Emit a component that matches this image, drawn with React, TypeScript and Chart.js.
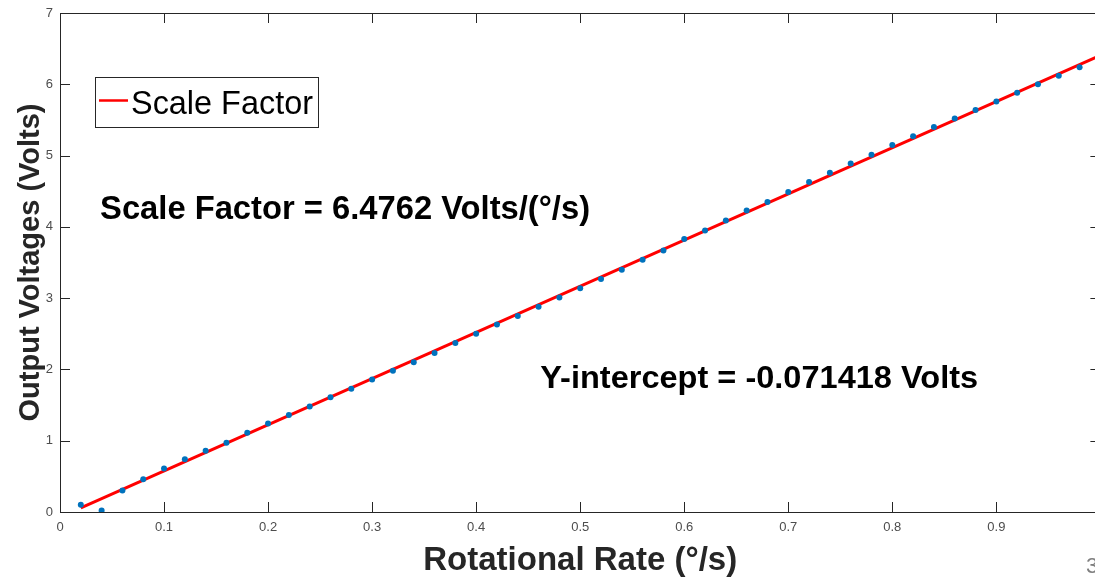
import React, { useEffect, useRef } from "react";
import { Chart, registerables } from "chart.js";

Chart.register(...registerables);

// ---- data ----
const rateX = [
  0.02, 0.04, 0.06, 0.08, 0.1, 0.12, 0.14, 0.16, 0.18, 0.2,
  0.22, 0.24, 0.26, 0.28, 0.3, 0.32, 0.34, 0.36, 0.38, 0.4,
  0.42, 0.44, 0.46, 0.48, 0.5, 0.52, 0.54, 0.56, 0.58, 0.6,
  0.62, 0.64, 0.66, 0.68, 0.7, 0.72, 0.74, 0.76, 0.78, 0.8,
  0.82, 0.84, 0.86, 0.88, 0.9, 0.92, 0.94, 0.96, 0.98,
];
const voltY = [
  0.1, 0.02, 0.3, 0.46, 0.61, 0.74, 0.86, 0.97, 1.11, 1.24,
  1.36, 1.48, 1.61, 1.73, 1.86, 1.98, 2.1, 2.23, 2.37, 2.5,
  2.63, 2.75, 2.88, 3.01, 3.14, 3.27, 3.4, 3.54, 3.67, 3.83,
  3.95, 4.09, 4.23, 4.35, 4.49, 4.63, 4.76, 4.89, 5.01, 5.15,
  5.27, 5.4, 5.52, 5.64, 5.76, 5.88, 6.0, 6.12, 6.24,
];
const fitX = [0.02, 1.0];
const fitY = [0.058, 6.405];

const xTickValues = [0, 0.1, 0.2, 0.3, 0.4, 0.5, 0.6, 0.7, 0.8, 0.9, 1];
const xTickLabels = ["0", "0.1", "0.2", "0.3", "0.4", "0.5", "0.6", "0.7", "0.8", "0.9", "1"];
const yTickValues = [0, 1, 2, 3, 4, 5, 6, 7];
const yTickLabels = ["0", "1", "2", "3", "4", "5", "6", "7"];

const legendLabel = "Scale Factor";
const xTitle = "Rotational Rate (°/s)";
const yTitle = "Output Voltages (Volts)";
const slopeText = "Scale Factor = 6.4762 Volts/(°/s)";
const interceptText = "Y-intercept = -0.071418 Volts";
const pageNumber = "3";

const FONT = '"Liberation Sans", Arial, Helvetica, sans-serif';
const AXIS_COLOR = "#262626";
const TICK_COLOR = "#4d4d4d";
const POINT_COLOR = "#0072BD";
const LINE_COLOR = "#ff0000";

function drawFitText(
  ctx: CanvasRenderingContext2D,
  text: string,
  font: string,
  x: number,
  yBase: number,
  width: number,
  color: string
) {
  ctx.save();
  ctx.font = font;
  const w = ctx.measureText(text).width;
  ctx.translate(x, yBase);
  ctx.scale(width / w, 1);
  ctx.textAlign = "left";
  ctx.textBaseline = "alphabetic";
  ctx.fillStyle = color;
  ctx.fillText(text, 0, 0);
  ctx.restore();
}

const decorPlugin = {
  id: "matlabDecor",
  afterDraw(chart: any) {
    const { ctx, chartArea } = chart;
    const { left, right, top, bottom } = chartArea;
    const xs = chart.scales.x;
    const ys = chart.scales.y;
    ctx.save();
    // axes box
    ctx.strokeStyle = AXIS_COLOR;
    ctx.lineWidth = 1;
    ctx.strokeRect(Math.round(left) + 0.5, Math.round(top) + 0.5, Math.round(right - left), Math.round(bottom - top));
    // inward ticks
    const tl = 10;
    ctx.beginPath();
    xTickValues.forEach((v) => {
      const px = Math.round(xs.getPixelForValue(v)) + 0.5;
      ctx.moveTo(px, bottom);
      ctx.lineTo(px, bottom - tl);
      ctx.moveTo(px, top);
      ctx.lineTo(px, top + tl);
    });
    yTickValues.forEach((v) => {
      const py = Math.round(ys.getPixelForValue(v)) + 0.5;
      ctx.moveTo(left, py);
      ctx.lineTo(left + tl, py);
      ctx.moveTo(right, py);
      ctx.lineTo(right - tl, py);
    });
    ctx.stroke();

    // legend box
    const lx = 95, ly = 77, lw = 223, lh = 50;
    ctx.fillStyle = "#ffffff";
    ctx.fillRect(lx, ly, lw, lh);
    ctx.strokeStyle = AXIS_COLOR;
    ctx.lineWidth = 1;
    ctx.strokeRect(lx + 0.5, ly + 0.5, lw, lh);
    ctx.strokeStyle = LINE_COLOR;
    ctx.lineWidth = 2.5;
    ctx.beginPath();
    ctx.moveTo(99, 100.5);
    ctx.lineTo(128, 100.5);
    ctx.stroke();
    drawFitText(ctx, legendLabel, `normal 33px ${FONT}`, 131, 114, 182, "#000000");

    // annotations anchored in data coordinates
    drawFitText(
      ctx,
      slopeText,
      `bold 34px ${FONT}`,
      xs.getPixelForValue(0.0385),
      ys.getPixelForValue(4.11),
      490,
      "#000000"
    );
    drawFitText(
      ctx,
      interceptText,
      `bold 32px ${FONT}`,
      xs.getPixelForValue(0.4615),
      ys.getPixelForValue(1.74),
      438,
      "#000000"
    );

    // slide page number
    ctx.fillStyle = "#7f7f7f";
    ctx.font = `normal 22px ${FONT}`;
    ctx.textAlign = "left";
    ctx.textBaseline = "alphabetic";
    ctx.fillText(pageNumber, 1086, 573);
    ctx.restore();
  },
};

export default function App() {
  const canvasRef = useRef<HTMLCanvasElement | null>(null);

  useEffect(() => {
    const canvas = canvasRef.current;
    if (!canvas) return;
    const scatterData = rateX.map((x, i) => ({ x, y: voltY[i] }));
    const fitData = fitX.map((x, i) => ({ x, y: fitY[i] }));

    const chart = new Chart(canvas, {
      type: "scatter",
      data: {
        datasets: [
          {
            label: "Data",
            data: scatterData,
            backgroundColor: POINT_COLOR,
            borderColor: POINT_COLOR,
            pointRadius: 3,
            pointBorderWidth: 0,
            showLine: false,
            order: 0,
          },
          {
            label: legendLabel,
            data: fitData,
            borderColor: LINE_COLOR,
            backgroundColor: LINE_COLOR,
            borderWidth: 3,
            pointRadius: 0,
            showLine: true,
            order: 1,
          },
        ],
      },
      options: {
        responsive: false,
        animation: false,
        events: [],
        layout: { padding: { top: 13, right: 0, left: 0, bottom: 0 } },
        plugins: {
          legend: { display: false },
          tooltip: { enabled: false },
        },
        scales: {
          x: {
            type: "linear",
            min: 0,
            max: 1,
            grid: { display: false, drawTicks: false },
            border: { display: false },
            afterBuildTicks: (scale: any) => {
              scale.ticks = xTickValues.map((v) => ({ value: v }));
            },
            afterFit: (scale: any) => {
              scale.height = 69;
            },
            ticks: {
              padding: 8,
              color: TICK_COLOR,
              font: { family: FONT, size: 13 },
              maxRotation: 0,
              autoSkip: false,
              callback: (_v: any, i: number) => xTickLabels[i],
            },
            title: {
              display: true,
              text: xTitle,
              color: "#262626",
              font: { family: FONT, size: 33, weight: "bold" },
              padding: { top: 0, bottom: 0 },
            },
          },
          y: {
            type: "linear",
            min: 0,
            max: 7,
            grid: { display: false, drawTicks: false },
            border: { display: false },
            afterBuildTicks: (scale: any) => {
              scale.ticks = yTickValues.map((v) => ({ value: v }));
            },
            afterFit: (scale: any) => {
              scale.width = 60;
            },
            ticks: {
              padding: 7,
              color: TICK_COLOR,
              font: { family: FONT, size: 13, lineHeight: 0.9 },
              autoSkip: false,
              callback: (_v: any, i: number) => yTickLabels[i],
            },
            title: {
              display: true,
              text: yTitle,
              color: "#262626",
              font: { family: FONT, size: 29, weight: "bold" },
              padding: { top: 14, bottom: 0 },
            },
          },
        },
      },
      plugins: [decorPlugin],
    });

    return () => chart.destroy();
  }, []);

  return (
    <div
      style={{
        position: "fixed",
        left: 0,
        top: 0,
        width: 1095,
        height: 581,
        overflow: "hidden",
        background: "#ffffff",
      }}
    >
      <canvas ref={canvasRef} width={1112} height={581} style={{ width: 1112, height: 581, display: "block" }} />
    </div>
  );
}
